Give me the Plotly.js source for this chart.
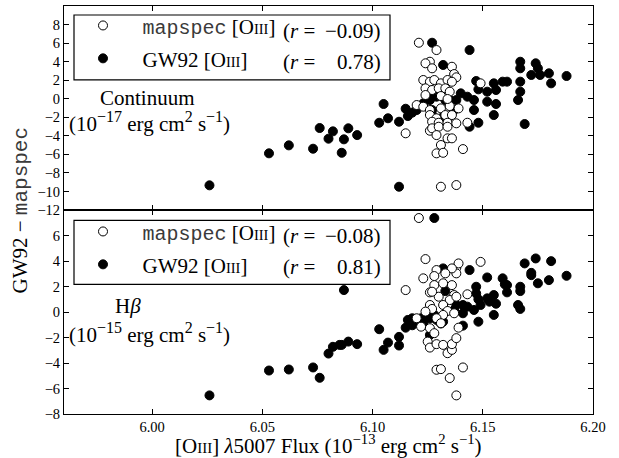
<!DOCTYPE html>
<html>
<head>
<meta charset="utf-8">
<script src="https://cdn.plot.ly/plotly-3.0.1.min.js"></script>
<style>html,body{margin:0;padding:0;background:#fff}#chart{width:619px;height:458px}</style>
</head>
<body>
<div id="chart"></div>
<script>
// ---- Top panel: Continuum ----
const contGwX = [6.026,6.053,6.062,6.073,6.076,6.080,6.082,6.087,6.089,6.086,6.093,6.105,6.103,6.107,6.112,6.112,6.115,6.116,6.120,6.121,6.123,6.126,6.127,6.132,6.127,6.128,6.132,6.129,6.133,6.135,6.138,6.140,6.143,6.144,6.144,6.146,6.147,6.148,6.148,6.152,6.152,6.155,6.155,6.156,6.156,6.159,6.161,6.166,6.167,6.167,6.167,6.167,6.169,6.172,6.174,6.175,6.176,6.180,6.181,6.188,6.127,6.130,6.127,6.137,6.146,6.127,6.118];
const contGwY = [-9.34,-5.89,-5.03,-5.39,-3.16,-4.31,-3.52,-4.38,-3.19,-5.83,-3.92,-0.57,-2.59,-2.11,-9.49,-2.48,-1.08,-1.87,-1.22,-0.79,-0.50,-0.14,6.04,3.64,-1.94,-2.55,-1.94,0.22,-0.14,-0.14,-0.14,0.58,0.22,5.25,-3.02,-0.14,1.91,-2.59,1.01,-0.32,0.76,1.66,-1.76,-0.57,0.94,1.84,1.84,-0.14,0.76,1.84,3.28,3.99,-2.73,2.56,3.82,3.28,2.56,2.74,1.66,2.45,0.40,0.58,-1.22,-1.22,-1.22,-1.75,-1.50];
const contMsX = [6.121,6.129,6.126,6.124,6.127,6.136,6.137,6.138,6.123,6.126,6.128,6.131,6.134,6.136,6.124,6.127,6.130,6.133,6.135,6.124,6.149,6.120,6.123,6.126,6.131,6.135,6.139,6.126,6.129,6.133,6.136,6.127,6.130,6.134,6.138,6.126,6.127,6.130,6.134,6.143,6.115,6.129,6.134,6.136,6.131,6.141,6.129,6.132,6.131,6.138,6.131,6.134];
const contMsY = [6.04,5.25,3.99,3.82,3.28,3.45,2.66,2.31,2.02,1.83,2.02,1.66,2.02,1.83,1.12,0.94,1.12,1.12,0.76,0.40,1.66,-0.68,-0.86,-1.22,-1.04,-0.79,-1.04,-1.76,-2.11,-1.76,-1.76,-2.48,-2.59,-2.59,-2.65,-3.45,-3.19,-3.02,-3.02,-2.59,-3.73,-3.92,-4.27,-4.27,-4.99,-5.43,-5.89,-5.83,-9.49,-9.31,0.29,-0.03];

// ---- Bottom panel: H-beta ----
const hbGwX = [6.026,6.053,6.062,6.073,6.076,6.080,6.082,6.085,6.086,6.089,6.093,6.087,6.103,6.105,6.107,6.112,6.112,6.115,6.116,6.118,6.120,6.122,6.126,6.126,6.128,6.129,6.128,6.132,6.132,6.133,6.137,6.138,6.141,6.141,6.143,6.144,6.146,6.147,6.147,6.148,6.148,6.149,6.152,6.152,6.153,6.155,6.155,6.156,6.159,6.160,6.161,6.161,6.166,6.167,6.167,6.167,6.169,6.172,6.172,6.174,6.175,6.180,6.181,6.188,6.118,6.123,6.131,6.141];
const hbGwY = [-6.54,-4.59,-4.51,-4.35,-5.16,-3.26,-2.73,-2.58,-2.58,-2.32,-2.52,1.72,-1.35,-2.97,-2.40,-1.95,-2.63,-1.23,-0.62,-0.49,-0.76,-0.49,-0.49,-1.80,-0.23,-0.62,7.37,3.42,-0.76,1.64,0.16,0.55,0.55,-1.07,0.42,3.29,0.16,1.98,1.46,-0.76,1.00,0.55,1.07,2.71,0.81,1.33,-0.23,0.65,2.64,2.17,1.54,2.11,0.55,1.98,1.64,0.24,3.81,3.07,2.89,4.20,2.25,2.50,3.99,2.84,-1.04,-0.88,-0.90,-0.10];
const hbMsX = [6.121,6.124,6.115,6.149,6.129,6.123,6.128,6.126,6.128,6.126,6.127,6.124,6.120,6.122,6.126,6.128,6.125,6.126,6.129,6.132,6.134,6.136,6.136,6.138,6.139,6.143,6.138,6.138,6.139,6.136,6.133,6.132,6.136,6.137,6.135,6.132,6.134,6.137,6.132,6.129,6.131,6.129,6.131,6.135,6.141,6.138,6.130,6.138,6.127];
const hbMsY = [7.37,4.15,1.72,3.93,3.29,2.64,2.82,1.54,2.11,0.55,0.24,0.03,-0.49,-1.15,-1.27,-1.66,-2.32,-2.79,-2.52,-2.58,-3.23,-2.97,-2.52,-2.05,-1.23,1.39,3.47,3.03,3.81,3.42,3.03,2.25,2.11,1.33,0.94,0.55,0.08,-0.10,-0.23,-0.49,-0.88,-4.53,-4.48,-5.18,-4.35,-6.54,1.20,1.20,1.59];

// ---- Text ----
const xTicks = [6.00, 6.05, 6.10, 6.15, 6.20];
const topTicks = [-12, -10, -8, -6, -4, -2, 0, 2, 4, 6, 8];
const botTicks = [-8, -6, -4, -2, 0, 2, 4, 6];
const rTop = ['\u22120.09', '0.78'];
const rBot = ['\u22120.08', '0.81'];

const SERIF = 'Liberation Serif';
const MONO = 'Liberation Mono';
const sz = (s, f) => '<span style="font-size:' + f + 'px">' + s + '</span>';
const mono = s => '<span style="font-family:' + MONO + ';color:#3a3a3a">' + s + '</span>';
const sup = s => '<sup>' + sz(s, 16) + '</sup>';
const nb = n => '\u00a0'.repeat(n);
const O3 = '[O' + sz('III', 14.5) + ']';
const nameMs = sz(nb(2), 21) + sz(mono('mapspec'), 20) + sz(' ' + O3, 21);
const nameGw = sz(nb(2) + 'GW92 ' + O3, 21);

const filled = {size: 9, color: '#000', line: {color: '#000', width: 1}};
const open = {size: 9, color: '#fff', line: {color: '#000', width: 1}};

const traces = [
  {x: contGwX, y: contGwY, xaxis: 'x2', yaxis: 'y', mode: 'markers', marker: filled, name: nameGw, legend: 'legend', legendrank: 2},
  {x: contMsX, y: contMsY, xaxis: 'x2', yaxis: 'y', mode: 'markers', marker: open, name: nameMs, legend: 'legend', legendrank: 1},
  {x: hbGwX, y: hbGwY, xaxis: 'x', yaxis: 'y2', mode: 'markers', marker: filled, name: nameGw, legend: 'legend2', legendrank: 2},
  {x: hbMsX, y: hbMsY, xaxis: 'x', yaxis: 'y2', mode: 'markers', marker: open, name: nameMs, legend: 'legend2', legendrank: 1}
];

const minus = v => v < 0 ? '\u2212' + (-v) : String(v);
const axCommon = {
  showline: true, linecolor: '#000', linewidth: 1, mirror: 'ticks',
  ticks: 'inside', ticklen: 5, tickwidth: 1, tickcolor: '#000',
  showgrid: false, zeroline: false,
  tickfont: {family: SERIF, size: 14.5, color: '#000'}
};
const legCommon = {
  font: {family: SERIF, size: 23, color: '#000'},
  borderwidth: 0, bgcolor: 'rgba(0,0,0,0)',
  xanchor: 'left', yanchor: 'top', traceorder: 'normal', itemclick: false, itemwidth: 48
};

// paper-coordinate helpers (plot area: x 64..593, y 5..414)
const px = p => (p - 64) / 529;
const py = p => (414 - p) / 409;

const ann = (x, y, text, size, xanchor) => ({xref: 'paper', yref: 'paper', x: px(x), y: py(y), text: text, showarrow: false,
  font: {family: SERIF, size: size, color: '#000'}, xanchor: xanchor || 'center', yanchor: 'middle'});

const rowsTop = [30, 61], rowsBot = [236, 267];
const rAnn = [];
[[rowsTop, rTop], [rowsBot, rBot]].forEach(([rows, vals]) => {
  rows.forEach((yy, i) => {
    rAnn.push(ann(281, yy, '(<i>r</i> =', 21, 'left'));
    rAnn.push(ann(383, yy, vals[i] + ')', 21, 'right'));
  });
});

const layout = {
  width: 619, height: 458,
  margin: {l: 64, r: 26, t: 5, b: 44},
  paper_bgcolor: '#fff', plot_bgcolor: '#fff',
  font: {family: SERIF, color: '#000'},
  showlegend: true,
  xaxis: Object.assign({}, axCommon, {anchor: 'y2', range: [5.96, 6.20], tickvals: xTicks, tickformat: '.2f'}),
  xaxis2: Object.assign({}, axCommon, {anchor: 'y', matches: 'x', range: [5.96, 6.20], tickvals: xTicks, showticklabels: false}),
  yaxis: Object.assign({}, axCommon, {domain: [0.5, 1], range: [-12, 10], tickvals: topTicks, ticktext: topTicks.map(minus)}),
  yaxis2: Object.assign({}, axCommon, {domain: [0, 0.5], range: [-8, 8], tickvals: botTicks, ticktext: botTicks.map(minus)}),
  legend: Object.assign({}, legCommon, {x: px(74), y: py(4)}),
  legend2: Object.assign({}, legCommon, {x: px(74), y: py(210)}),
  shapes: [
    {type: 'rect', xref: 'paper', yref: 'paper', x0: px(74), x1: px(390), y0: py(79), y1: py(14), line: {color: '#000', width: 1.2}, fillcolor: '#fff', layer: 'below'},
    {type: 'rect', xref: 'paper', yref: 'paper', x0: px(74), x1: px(390), y0: py(284), y1: py(220), line: {color: '#000', width: 1.2}, fillcolor: '#fff', layer: 'below'}
  ],
  annotations: [
    ann(147, 97, 'Continuum', 21),
    ann(149, 121, '(10' + sup('\u221217') + ' erg cm' + sup('2') + ' s' + sup('\u22121') + ')', 21),
    ann(128, 306, 'H<i>\u03b2</i>', 21),
    ann(149, 333, '(10' + sup('\u221215') + ' erg cm' + sup('2') + ' s' + sup('\u22121') + ')', 21),
    ann(328, 445, '[O' + sz('III', 15) + '] <i>\u03bb</i>5007 Flux (10<sup>\u221213</sup> erg cm<sup>2</sup> s<sup>\u22121</sup>)', 21),
    Object.assign(ann(20, 210, 'GW92 \u2212 ' + mono('mapspec'), 21), {textangle: -90})
  ].concat(rAnn)
};

Plotly.newPlot('chart', traces, layout, {staticPlot: true, displayModeBar: false});
</script>
</body>
</html>
